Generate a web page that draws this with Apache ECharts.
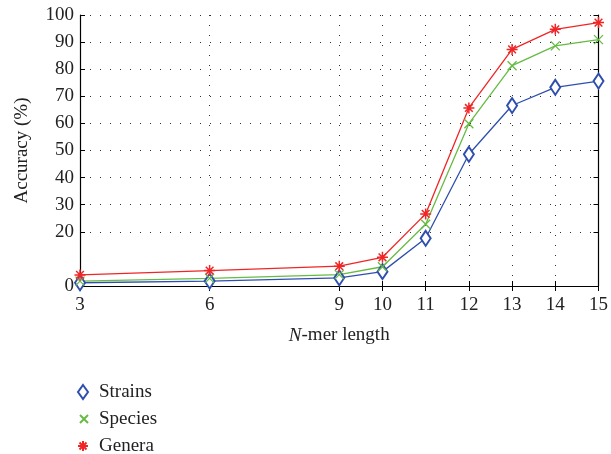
<!DOCTYPE html>
<html>
<head>
<meta charset="utf-8">
<script src="https://cdn.jsdelivr.net/npm/echarts@6/dist/echarts.min.js"></script>
<style>html,body{margin:0;padding:0;background:#fff;}#c{width:611px;height:454px;}</style>
</head>
<body>
<div id="c"></div>
<script>
var nmer = [3, 6, 9, 10, 11, 12, 13, 14, 15];
var xTicks = [3, 6, 9, 10, 11, 12, 13, 14, 15];
var yTicks = [0, 20, 30, 40, 50, 60, 70, 80, 90, 100];
var strains = [1.2, 1.8, 3.0, 5.3, 17.6, 48.6, 66.6, 73.3, 75.6];
var species = [1.8, 2.8, 4.2, 7.1, 22.8, 59.9, 81.3, 88.6, 90.9];
var genera  = [4.1, 5.7, 7.3, 10.6, 26.6, 65.7, 87.3, 94.7, 97.2];
var seriesNames = ['Strains', 'Species', 'Genera'];

var FONT = 'Liberation Serif';
var BLUE = '#2f4fae', GREEN = '#66bb44', RED = '#f02626';
var XSYM = 'path://M0,0L10,10M10,0L0,10';
var STAR = 'path://M5,0L5,10M0,5L10,5M1.5,1.5L8.5,8.5M8.5,1.5L1.5,8.5';

function pairs(vals) { return nmer.map(function (x, i) { return [x, vals[i]]; }); }
function oneLegend(name, icon, left, top, w, h) {
  return {
    orient: 'vertical', left: left, top: top, padding: 0,
    itemWidth: w, itemHeight: h,
    textStyle: { fontFamily: FONT, fontSize: 19, color: '#222', lineHeight: 20, padding: [0, 0, 0, 6] },
    data: [{ name: name, icon: icon }]
  };
}

var dotted = { show: true, lineStyle: { color: '#333', width: 1, type: [1, 9] } };
var chart = echarts.init(document.getElementById('c'), null, { renderer: 'canvas' });
chart.setOption({
  animation: false,
  backgroundColor: '#fff',
  textStyle: { fontFamily: FONT },
  grid: { left: 80, right: 11, top: 15, bottom: 168, containLabel: false },
  xAxis: [{
    type: 'value', min: 3, max: 15, position: 'bottom',
    name: '{i|N}-mer length', nameLocation: 'middle', nameGap: 40,
    nameTextStyle: { fontFamily: FONT, fontSize: 19, color: '#222',
      rich: { i: { fontFamily: FONT, fontSize: 19, fontStyle: 'italic', color: '#222' } } },
    axisLine: { show: true, lineStyle: { color: '#000', width: 1.2 } },
    axisTick: { show: true, inside: true, length: 5, customValues: xTicks, lineStyle: { color: '#000' } },
    axisLabel: { customValues: xTicks, margin: 10, fontFamily: FONT, fontSize: 19, color: '#222' },
    splitLine: dotted
  }, {
    type: 'value', min: 3, max: 15, position: 'top',
    axisLine: { show: true, lineStyle: { color: '#000', width: 1.2 } },
    axisTick: { show: true, inside: true, length: 5, customValues: xTicks, lineStyle: { color: '#000' } },
    axisLabel: { show: false },
    splitLine: { show: false }
  }],
  yAxis: [{
    type: 'value', min: 0, max: 100, interval: 10, position: 'left',
    name: 'Accuracy (%)', nameLocation: 'middle', nameGap: 48,
    nameTextStyle: { fontFamily: FONT, fontSize: 19, color: '#222' },
    axisLine: { show: true, lineStyle: { color: '#000', width: 1.2 } },
    axisTick: { show: true, inside: true, length: 5, customValues: yTicks, lineStyle: { color: '#000' } },
    axisLabel: { customValues: yTicks, margin: 6, fontFamily: FONT, fontSize: 19, color: '#222' },
    splitLine: dotted
  }, {
    type: 'value', min: 0, max: 100, interval: 10, position: 'right',
    axisLine: { show: true, lineStyle: { color: '#000', width: 1.2 } },
    axisTick: { show: true, inside: true, length: 5, customValues: yTicks, lineStyle: { color: '#000' } },
    axisLabel: { show: false },
    splitLine: { show: false }
  }],
  legend: [
    oneLegend(seriesNames[0], 'emptyDiamond', 77, 382, 10, 14),
    oneLegend(seriesNames[1], XSYM, 79, 409, 8, 8),
    oneLegend(seriesNames[2], STAR, 77, 436, 10, 10)
  ],
  series: [{
    name: seriesNames[0], type: 'line', data: pairs(strains),
    symbol: 'emptyDiamond', symbolSize: [10, 15],
    lineStyle: { color: BLUE, width: 1.3 },
    itemStyle: { color: BLUE, borderColor: BLUE, borderWidth: 1.3 }
  }, {
    name: seriesNames[1], type: 'line', data: pairs(species),
    symbol: XSYM, symbolSize: 9,
    lineStyle: { color: GREEN, width: 1.3 },
    itemStyle: { color: GREEN, borderColor: GREEN, borderWidth: 1.3 }
  }, {
    name: seriesNames[2], type: 'line', data: pairs(genera),
    symbol: STAR, symbolSize: 11,
    lineStyle: { color: RED, width: 1.3 },
    itemStyle: { color: RED, borderColor: RED, borderWidth: 1.5 }
  }]
});
</script>
</body>
</html>
